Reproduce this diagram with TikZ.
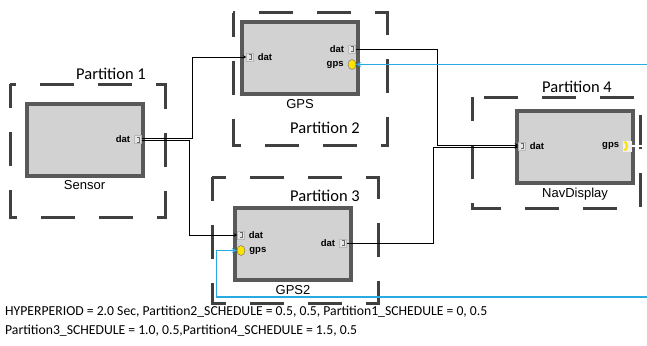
\documentclass[tikz,border=0pt]{standalone}
\usepackage{fontspec}
\setmainfont{Carlito}
\newfontfamily\arialfont{Liberation Sans}
\usetikzlibrary{positioning,shapes.geometric}
\definecolor{linkblue}{RGB}{41,171,226}

\begin{document}
\begin{tikzpicture}[x=1pt,y=-1pt,>=stealth,
    comp/.style={draw=black!65, line width=4pt, fill=gray!35, minimum width=116pt, minimum height=72pt},
    complab/.style={font=\arialfont\fontsize{13}{15}\selectfont, inner sep=1pt},
    partbox/.style={draw=black!75, line width=3pt, dash pattern=on 34pt off 24pt, dash phase=10pt},
    partlab/.style={font=\fontsize{16.5}{18}\selectfont},
    port/.style={draw=gray!55, fill=gray!20, line width=0.4pt, minimum width=7pt, minimum height=8pt, inner sep=0pt,
        path picture={\draw[black!60, line width=0.5pt] ([xshift=-1pt,yshift=2.5pt]path picture bounding box.center) -- ++(2pt,0) -- ++(0,-5pt) -- ++(-2pt,0);}},
    gpsport/.style={ellipse, draw=black!60, fill=yellow!85!orange, line width=0.4pt, minimum width=8pt, minimum height=10pt, inner sep=0pt},
    portlab/.style={font=\arialfont\bfseries\fontsize{9.5}{11}\selectfont, inner sep=0pt},
    wire/.style={draw=black, line width=0.6pt},
    link/.style={draw=linkblue, line width=1.2pt}]
    \useasboundingbox (0,0) rectangle (647,345);

    % partitions
    \foreach \xa/\ya/\xb/\yb in {10/84/165/217, 233/13/387/145, 212/177/378/303, 472/97/640/208}
        \draw[partbox] (\xa,\ya) rectangle (\xb,\yb);
    \node[partlab] (p1) at (111,74) {Partition 1};
    \node[partlab] (p2) at (325,128) {Partition 2};
    \node[partlab] (p3) at (325,196) {Partition 3};
    \node[partlab] (p4) at (577,87) {Partition 4};

    % components
    \node[comp] (sensor) at (84.5,139.5) {};
    \node[comp] (gps) at (300,58) {};
    \node[comp] (gps2) at (293,244) {};
    \node[comp] (nav) at (575,147) {};
    \node[complab, below=2pt of sensor] {Sensor};
    \node[complab, below=2pt of gps] {GPS};
    \node[complab, below=2pt of gps2] {GPS2};
    \node[complab, below=2pt of nav] {NavDisplay};

    % ports
    \node[port] (sensordat) at (138,139.5) {};
    \node[portlab, left=4pt of sensordat] {dat};
    \node[port] (gpsin) at (250,57) {};
    \node[portlab, right=4pt of gpsin] {dat};
    \node[port] (gpsout) at (352,49) {};
    \node[portlab, left=4pt of gpsout] {dat};
    \node[gpsport] (gpsgps) at (352,64.5) {};
    \node[portlab, left=4pt of gpsgps] {gps};
    \node[port] (gps2in) at (241,235) {};
    \node[portlab, right=4pt of gps2in] {dat};
    \node[gpsport] (gps2gps) at (241,250.5) {};
    \node[portlab, right=4pt of gps2gps] {gps};
    \node[port] (gps2out) at (343,243) {};
    \node[portlab, left=4pt of gps2out] {dat};
    \node[port] (navin) at (522,146) {};
    \node[portlab, right=4pt of navin] {dat};
    \node[draw=none, fill=gray!12, minimum width=9pt, minimum height=11pt, inner sep=0pt] (navgps) at (627,146) {};
    \draw[yellow!85!orange, line width=2.2pt] ([xshift=-2.5pt,yshift=4.5pt]navgps.center) arc (55:-55:5.5pt);
    \node[portlab, left=3pt of navgps] {gps};

    % connections
    \draw[wire,->] ([yshift=1pt]sensordat.east) -| ([xshift=-54pt]gpsin.west) -- (gpsin.west);
    \draw[wire,->] ([yshift=-1pt]sensordat.east) -| ([xshift=-48pt]gps2in.west) -- (gps2in.west);
    \draw[wire,->] (gpsout.east) -| ([xshift=-81pt,yshift=1pt]navin.west) -- ([yshift=1pt]navin.west);
    \draw[wire,->] (gps2out.east) -| ([xshift=-85pt,yshift=-1pt]navin.west) -- ([yshift=-1pt]navin.west);

    \coordinate (edgea) at (647,64.5);
    \coordinate (edgeb) at (647,297);
    \coordinate (edgec) at (647,146);
    \draw[link,->] (edgea) -- (gpsgps.east);
    \draw[link,->] (edgeb) -| ([xshift=-20.5pt]gps2gps.west) -- (gps2gps.west);
    \draw[link,double=white,double distance=1.2pt,line width=0.5pt] (navgps.east) -- (edgec);

    % schedule
    \node[anchor=north west, align=left, inner sep=0pt, font=\fontsize{13.7}{19}\selectfont] (sched) at (5,306)
        {HYPERPERIOD = 2.0 Sec, Partition2\_SCHEDULE = 0.5, 0.5, Partition1\_SCHEDULE = 0, 0.5\\
         Partition3\_SCHEDULE = 1.0, 0.5,Partition4\_SCHEDULE = 1.5, 0.5};
\end{tikzpicture}
\end{document}
